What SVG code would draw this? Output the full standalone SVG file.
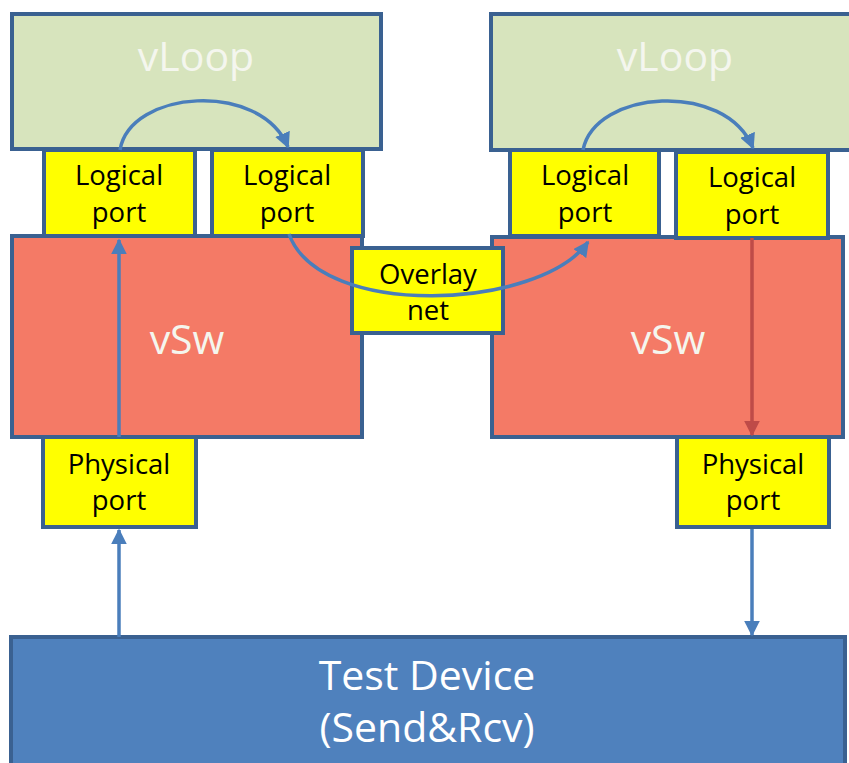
<svg xmlns="http://www.w3.org/2000/svg" width="849" height="763" viewBox="0 0 849 763">
<defs>
<style>
.box{stroke:#3a6191;stroke-width:4}
.loop{fill:#d7e4bd}
.port{fill:#ffff00}
.vsw{fill:#f47a66}
.dev{fill:#4f81bd}
.t{font-family:"Open Sans","Liberation Sans",sans-serif;text-anchor:middle}
.pt{font-size:27.5px;fill:#000}
.big{font-size:41px;fill:#f4f6ee}
.dt{font-size:41px;fill:#ffffff}
.a{fill:none;stroke:#4a7ebb;stroke-width:3.5}
.ar{fill:none;stroke:#be4b48;stroke-width:3.5}
</style>
<marker id="mb" viewBox="0 0 10 10" refX="9" refY="5" markerWidth="4.5" markerHeight="4.5" orient="auto" markerUnits="strokeWidth"><path d="M0,0 L10,5 L0,10 z" fill="#4a7ebb"/></marker>
<marker id="mr" viewBox="0 0 10 10" refX="9" refY="5" markerWidth="4.5" markerHeight="4.5" orient="auto" markerUnits="strokeWidth"><path d="M0,0 L10,5 L0,10 z" fill="#be4b48"/></marker>
</defs>
<rect width="849" height="763" fill="#ffffff"/>
<g id="vloop-left"><rect class="box loop" x="12" y="14" width="369" height="135"/><text class="t big" x="196" y="71">vLoop</text></g>
<g id="vloop-right"><rect class="box loop" x="491" y="14" width="362" height="136"/><text class="t big" x="675" y="71">vLoop</text></g>
<g id="vsw-left"><rect class="box vsw" x="12" y="236" width="350" height="201"/><text class="t big" x="187" y="354">vSw</text></g>
<g id="vsw-right"><rect class="box vsw" x="492" y="237" width="351" height="200"/><text class="t big" x="668" y="354">vSw</text></g>
<g id="lp-left-1"><rect class="box port" x="44" y="150" width="151" height="86"/><text class="t pt" x="119" y="185">Logical</text><text class="t pt" x="119" y="222">port</text></g>
<g id="lp-left-2"><rect class="box port" x="212" y="150" width="151" height="86"/><text class="t pt" x="287" y="185">Logical</text><text class="t pt" x="287" y="222">port</text></g>
<g id="lp-right-1"><rect class="box port" x="510" y="150" width="149" height="86"/><text class="t pt" x="585" y="185">Logical</text><text class="t pt" x="585" y="222">port</text></g>
<g id="lp-right-2"><rect class="box port" x="676" y="152" width="152" height="86"/><text class="t pt" x="752" y="187">Logical</text><text class="t pt" x="752" y="224">port</text></g>
<g id="overlay"><rect class="box port" x="352" y="248" width="151" height="85"/><text class="t pt" x="428" y="284">Overlay</text><text class="t pt" x="428" y="320">net</text></g>
<g id="pp-left"><rect class="box port" x="43" y="437" width="153" height="90"/><text class="t pt" x="119" y="474">Physical</text><text class="t pt" x="119" y="510">port</text></g>
<g id="pp-right"><rect class="box port" x="677" y="437" width="152" height="90"/><text class="t pt" x="753" y="474">Physical</text><text class="t pt" x="753" y="510">port</text></g>
<g id="test-device"><rect class="box dev" x="11" y="637" width="834" height="140"/><text class="t dt" x="427" y="690">Test Device</text><text class="t dt" x="427" y="742">(Send&amp;Rcv)</text></g>
<g id="connectors">
<path class="a" d="M119,637 L119,530" marker-end="url(#mb)"/>
<path class="a" d="M119,437 L119,240" marker-end="url(#mb)"/>
<path class="a" d="M120,150 C130,90 260,80 288,147" marker-end="url(#mb)"/>
<path class="a" d="M583,150 C595,90 725,80 753,148" marker-end="url(#mb)"/>
<path class="a" d="M289,234 C320,320 540,310 588,242" marker-end="url(#mb)"/>
<path class="ar" d="M752,238 L752,435" marker-end="url(#mr)"/>
<path class="a" d="M752,529 L752,635" marker-end="url(#mb)"/>
</g>
</svg>
